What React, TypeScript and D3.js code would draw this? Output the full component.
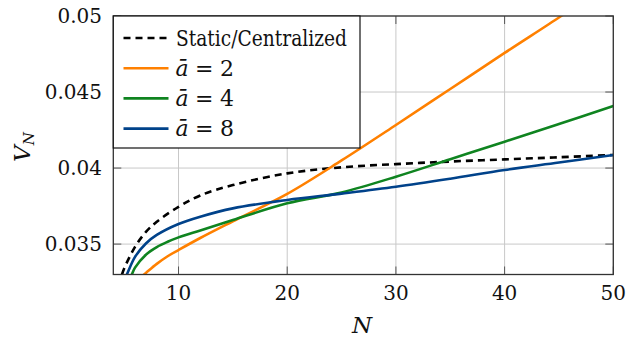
import React from "react";
import * as d3 from "d3";

const xTicks = [10, 20, 30, 40, 50];
const yTicks = [0.035, 0.04, 0.045, 0.05];
const yTickLabels = ["0.035", "0.04", "0.045", "0.05"];

const nStatic = [4.8, 5, 6, 7, 8, 10, 12, 15, 20, 25, 30, 35, 40, 45, 50];
const vStatic = [0.033, 0.0334, 0.03482, 0.0358, 0.03647, 0.03745, 0.0382, 0.03888, 0.03965, 0.04005, 0.04026, 0.04043, 0.04057, 0.04071, 0.04086];

const nA2 = [6.5, 7, 8, 9, 10, 12, 15, 20, 25, 30, 35, 40, 45, 46];
const vA2 = [0.0328, 0.0331, 0.0337, 0.0342, 0.03461, 0.0354, 0.0365, 0.0383, 0.0405, 0.04283, 0.0452, 0.04757, 0.0499, 0.0504];

const nA4 = [5.5, 5.7, 6, 7, 8, 9, 10, 12, 15, 20, 25, 30, 35, 40, 45, 50];
const vA4 = [0.0327, 0.033, 0.03345, 0.0343, 0.0348, 0.03515, 0.03544, 0.0359, 0.03658, 0.03768, 0.0384, 0.03943, 0.04058, 0.04173, 0.0429, 0.04408];

const nA8 = [5, 5.25, 6, 7, 8, 10, 12, 15, 20, 25, 30, 35, 40, 45, 50];
const vA8 = [0.0326, 0.033, 0.03416, 0.03504, 0.0356, 0.03632, 0.0368, 0.03735, 0.0379, 0.03832, 0.03877, 0.0393, 0.03987, 0.04036, 0.04086];

const legendLabels = ["Static/Centralized", "2", "4", "8"];

const W = 626, H = 342;
const L = 113.3, R = 613.3, T = 16, B = 274.5;
const FONT = "DejaVu Serif";

const C_STATIC = "#000";
const C_A2 = "#ff8000";
const C_A4 = "#0f8420";
const C_A8 = "#00428a";

export default function App() {
  const x = d3.scaleLinear().domain([4, 50]).range([L, R]);
  const y = d3.scaleLinear().domain([0.033, 0.05]).range([B, T]);
  const line = (ns: number[], vs: number[]) =>
    d3.line<number>().x((_, i) => x(ns[i])).y((v) => y(v)).curve(d3.curveCatmullRom.alpha(0.5))(vs) || "";

  const series = [
    { name: "static", d: line(nStatic, vStatic), color: C_STATIC, dash: "7,5" },
    { name: "a2", d: line(nA2, vA2), color: C_A2, dash: undefined },
    { name: "a4", d: line(nA4, vA4), color: C_A4, dash: undefined },
    { name: "a8", d: line(nA8, vA8), color: C_A8, dash: undefined },
  ];
  const legendRows = [
    { color: C_STATIC, dash: "7,5", math: false },
    { color: C_A2, dash: undefined, math: true },
    { color: C_A4, dash: undefined, math: true },
    { color: C_A8, dash: undefined, math: true },
  ];
  const tickLen = 8;

  return (
    <svg width={W} height={H} fontFamily={FONT} style={{ position: "fixed", left: 0, top: 0, background: "#fff" }}>
      <defs>
        <clipPath id="plotclip">
          <rect x={L} y={T} width={R - L} height={B - T} />
        </clipPath>
      </defs>
      <rect x={0} y={0} width={W} height={H} fill="#fff" />
      {xTicks.map((t) => (
        <line key={"gx" + t} x1={x(t)} x2={x(t)} y1={T} y2={B} stroke="#c8c8c8" strokeWidth={1} />
      ))}
      {yTicks.map((t) => (
        <line key={"gy" + t} x1={L} x2={R} y1={y(t)} y2={y(t)} stroke="#c8c8c8" strokeWidth={1} />
      ))}
      {xTicks.map((t) => (
        <g key={"tx" + t} stroke="#555" strokeWidth={1}>
          <line x1={x(t)} x2={x(t)} y1={B} y2={B - tickLen} />
          <line x1={x(t)} x2={x(t)} y1={T} y2={T + tickLen} />
        </g>
      ))}
      {yTicks.map((t) => (
        <g key={"ty" + t} stroke="#555" strokeWidth={1}>
          <line x1={L} x2={L + tickLen} y1={y(t)} y2={y(t)} />
          <line x1={R} x2={R - tickLen} y1={y(t)} y2={y(t)} />
        </g>
      ))}
      <g clipPath="url(#plotclip)">
        {series.map((s) => (
          <path key={s.name} d={s.d} fill="none" stroke={s.color} strokeWidth={2.6} strokeDasharray={s.dash} />
        ))}
      </g>
      <rect x={L} y={T} width={R - L} height={B - T} fill="none" stroke="#333" strokeWidth={1.3} />
      {xTicks.map((t) => (
        <text key={"lx" + t} x={x(t)} y={300} textAnchor="middle" fontSize={20} fill="#111">
          {t}
        </text>
      ))}
      {yTicks.map((t, i) => (
        <text key={"ly" + t} x={102} y={y(t) + 7} textAnchor="end" fontSize={20} fill="#111">
          {yTickLabels[i]}
        </text>
      ))}
      <text x={362} y={333} textAnchor="middle" fontSize={23} fontStyle="italic" fill="#111">N</text>
      <text transform="translate(30,147) rotate(-90)" textAnchor="middle" fontSize={23} fill="#111">
        <tspan fontStyle="italic">V</tspan>
        <tspan fontStyle="italic" fontSize={15} dy={4}>N</tspan>
      </text>
      <rect x={L} y={T} width={360 - L} height={148 - T} fill="#fff" stroke="#111" strokeWidth={1.2} />
      {legendRows.map((r, i) => {
        const cy = 38 + i * 30.2;
        return (
          <g key={"lg" + i}>
            <line x1={123.5} x2={168.5} y1={cy} y2={cy} stroke={r.color} strokeWidth={2.6} strokeDasharray={r.dash} />
            {!r.math ? (
              <text x={176} y={cy + 7.5} fontSize={22} fill="#111" textLength={171} lengthAdjust="spacingAndGlyphs">{legendLabels[i]}</text>
            ) : (
              <g fontSize={22} fill="#111">
                <text x={175.5} y={cy + 7.5} fontStyle="italic">ā</text>
                <text x={195} y={cy + 7.5}>=</text>
                <text x={220} y={cy + 7.5}>{legendLabels[i]}</text>
              </g>
            )}
          </g>
        );
      })}
    </svg>
  );
}
